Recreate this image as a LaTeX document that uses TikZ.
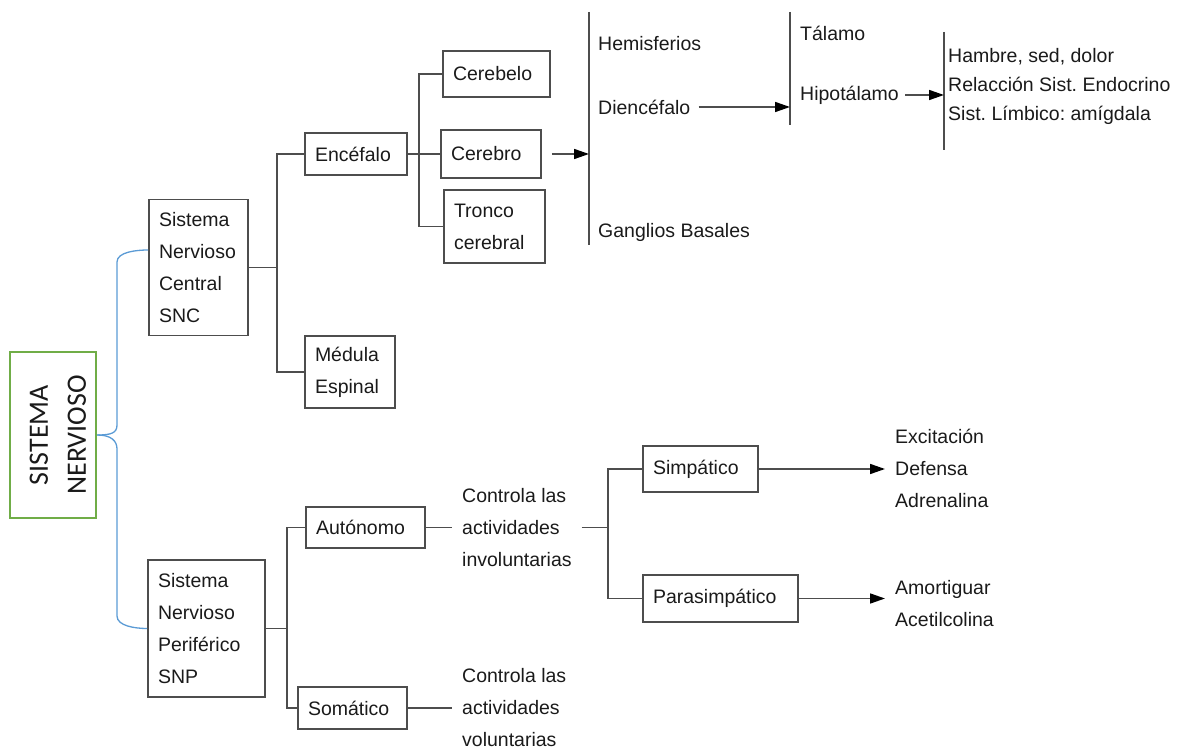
\documentclass[tikz,border=0pt]{standalone}
\usepackage{fontspec}
\setmainfont{Liberation Sans}
\newfontfamily\calibri{Carlito}
\usepackage{xcolor}
\usetikzlibrary{arrows.meta,positioning,calc}
\frenchspacing

\definecolor{linegray}{HTML}{4D4D4D}
\definecolor{textgray}{HTML}{1A1A1A}
\definecolor{leafgreen}{HTML}{70AD47}
\definecolor{braceblue}{HTML}{5B9BD5}

\begin{document}
\begin{tikzpicture}[
    x=1pt, y=-1pt,
    font=\fontsize{19.5}{32}\selectfont,
    box/.style={rectangle, draw=linegray, line width=1.6pt, align=left, inner xsep=10pt, inner ysep=0pt, text=textgray},
    tag/.style={anchor=west, align=left, inner sep=2pt, text=textgray},
    mainbox/.style={rectangle, draw=leafgreen, line width=2.5pt, minimum width=86pt, minimum height=166pt},
    link/.style={draw=linegray, line width=1.6pt},
    arrow/.style={link, -{Triangle[length=15pt,width=10pt,color=black]}},
    brace/.style={draw=braceblue, line width=1.3pt}
]
    \useasboundingbox (0,0) rectangle (1187,751);

    % root
    \node [mainbox] (sn) at (53,435) {};
    \node [rotate=90, align=center, inner sep=0pt, text=textgray, font=\calibri\fontsize{28}{38}\selectfont] (sntext) at (58,435) {SISTEMA\\NERVIOSO};

    % central
    \node [box, text width=79pt, minimum height=136pt] (snc) at (198.5,267.5) {Sistema\\Nervioso\\Central\\SNC};
    \node [box, text width=82pt, minimum height=42pt] (enc) at (356,154) {Encéfalo};
    \node [box, text width=70pt, minimum height=72pt] (med) at (350,372) {Médula\\Espinal};
    \node [box, text width=87pt, minimum height=46pt] (cbl) at (496.5,74) {Cerebelo};
    \node [box, text width=80pt, minimum height=48pt] (cbr) at (491,154) {Cerebro};
    \node [box, text width=81pt, minimum height=73pt] (tro) at (494.5,226.5) {Tronco\\cerebral};

    \coordinate (bar1a) at (589,12);
    \coordinate (bar1b) at (589,245);
    \node [tag] (hem) at (596,44) {Hemisferios};
    \node [tag] (die) at (596,107) {Diencéfalo};
    \node [tag] (gan) at (596,232) {Ganglios Basales};

    \coordinate (bar2a) at (790,12);
    \coordinate (bar2b) at (790,125);
    \node [tag] (tal) at (798,33) {Tálamo};
    \node [tag] (hip) at (798,95) {Hipotálamo};

    \coordinate (bar3a) at (944,32);
    \coordinate (bar3b) at (944,150);
    \node [tag, font=\fontsize{19.5}{29}\selectfont] (hsd) at (946,86) {Hambre, sed, dolor\\Relacción Sist. Endocrino\\Sist. Límbico: amígdala};

    % periferico
    \node [box, text width=97pt, minimum height=137pt] (snp) at (206.5,628.5) {Sistema\\Nervioso\\Periférico\\SNP};
    \node [box, text width=99pt, minimum height=41pt] (aut) at (365.5,527.5) {Autónomo};
    \node [box, text width=89pt, minimum height=42pt] (som) at (352.5,708) {Somático};
    \node [tag] (inv) at (460,527.5) {Controla las\\actividades\\involuntarias};
    \node [tag] (vol) at (460,708) {Controla las\\actividades\\voluntarias};
    \node [box, text width=95pt, minimum height=46pt] (sim) at (700.5,469) {Simpático};
    \node [box, text width=135pt, minimum height=47pt] (par) at (720.5,598.5) {Parasimpático};
    \node [tag] (exc) at (893,468) {Excitación\\Defensa\\Adrenalina};
    \node [tag] (amo) at (893,604) {Amortiguar\\Acetilcolina};

    % brace
    \draw [brace] (sn.east) .. controls +(14,0) and +(0,8) .. (117,425) -- (117,262) .. controls +(0,-10) and +(-12,0) .. ([yshift=17.5pt]snc.west);
    \draw [brace] (sn.east) .. controls +(14,0) and +(0,-8) .. (117,449) -- (117,616) .. controls +(0,10) and +(-12,0) .. (snp.west);

    % tree links
    \draw [link] (snc.east) -- ++(28,0) |- (enc.west);
    \draw [link] (snc.east) -- ++(28,0) |- (med.west);
    \draw [link] (enc.east) -- ++(11,0) |- (cbl.west);
    \draw [link] (enc.east) -- (cbr.west);
    \draw [link] (enc.east) -- ++(11,0) |- (tro.west);
    \draw [link] (bar1a) -- (bar1b);
    \draw [arrow] ([xshift=10pt]cbr.east) -- (cbr.east -| bar1a);
    \draw [link] (bar2a) -- (bar2b);
    \draw [arrow] ([xshift=6pt]die.east) -- (die.east -| bar2a);
    \draw [link] (bar3a) -- (bar3b);
    \draw [arrow] ([xshift=4pt]hip.east) -- (hip.east -| bar3a);

    \draw [link] (snp.east) -- ++(21,0) |- (aut.west);
    \draw [link] (snp.east) -- ++(21,0) |- (som.west);
    \draw [link, shorten >=8pt] (aut.east) -- (inv.west);
    \draw [link, shorten >=8pt] (som.east) -- (vol.west);
    \draw [link] ([xshift=8pt]inv.east) -- ++(26,0) |- (sim.west);
    \draw [link] ([xshift=8pt]inv.east) -- ++(26,0) |- (par.west);
    \draw [arrow, shorten >=8pt] (sim.east) -- (sim.east -| exc.west);
    \draw [arrow, shorten >=8pt] (par.east) -- (par.east -| amo.west);
\end{tikzpicture}
\end{document}
